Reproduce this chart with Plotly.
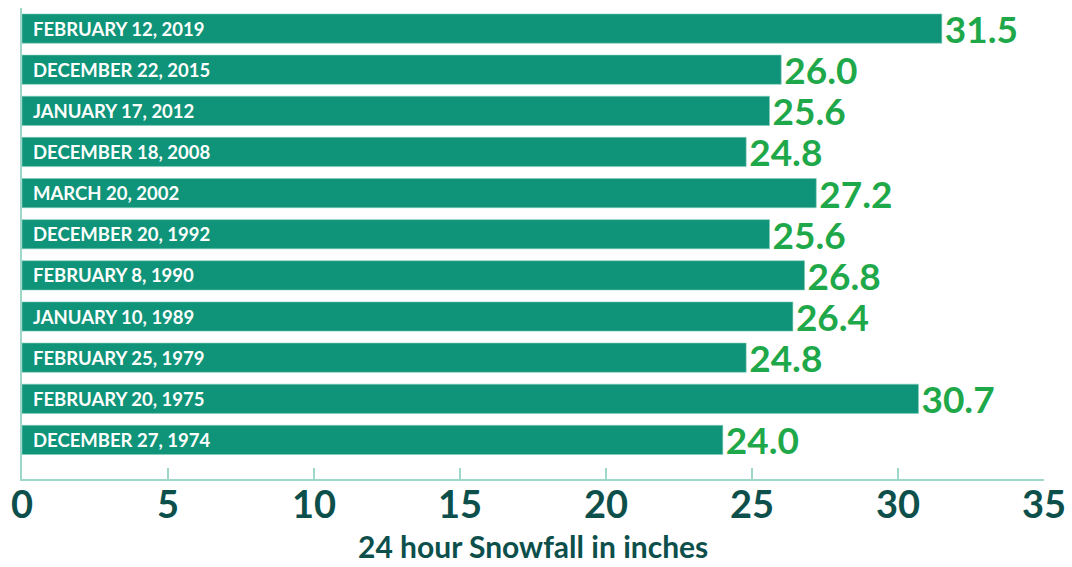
import plotly.graph_objects as go

dates = ["FEBRUARY 12, 2019", "DECEMBER 22, 2015", "JANUARY 17, 2012", "DECEMBER 18, 2008",
         "MARCH 20, 2002", "DECEMBER 20, 1992", "FEBRUARY 8, 1990", "JANUARY 10, 1989",
         "FEBRUARY 25, 1979", "FEBRUARY 20, 1975", "DECEMBER 27, 1974"]
snowfall = [31.5, 26.0, 25.6, 24.8, 27.2, 25.6, 26.8, 26.4, 24.8, 30.7, 24.0]
x_ticks = [0, 5, 10, 15, 20, 25, 30, 35]

BAR = "#0f9479"
VAL = "#1fa84a"
DARK = "#0d4f4b"
AXIS = "#9fd6ca"

idx = list(range(len(dates)))

fig = go.Figure()
fig.add_trace(go.Bar(
    x=snowfall, y=idx, orientation="h",
    marker=dict(color=BAR, line=dict(color="#7fcbb8", width=0.6)),
    width=0.71,
    text=[f"{v:.1f}" for v in snowfall],
    textposition="outside",
    constraintext="none",
    cliponaxis=False,
    outsidetextfont=dict(family="Lato", size=37, color=VAL, weight="bold"),
    hoverinfo="skip",
))

for i, d in enumerate(dates):
    fig.add_annotation(x=0, y=i, text=d, xref="x", yref="y", xanchor="left", yanchor="middle",
                       xshift=9, showarrow=False,
                       font=dict(family="Lato", size=18.5, color="white", weight="bold"))

fig.add_annotation(x=0.5, y=0, xref="paper", yref="paper", yshift=-67, yanchor="middle",
                   xanchor="center", showarrow=False, text="24 hour Snowfall in inches",
                   borderpad=0,
                   font=dict(family="Lato", size=30, color=DARK, weight="bold"))

fig.update_layout(
    width=1072, height=567,
    margin=dict(l=22, r=28, t=8, b=88),
    paper_bgcolor="white", plot_bgcolor="white",
    showlegend=False,
    bargap=0.29,
    xaxis=dict(range=[0, 35], tickvals=x_ticks, ticktext=[str(t) for t in x_ticks],
               automargin=False, ticklabelstandoff=-9,
               showgrid=False, zeroline=False, showline=True, linecolor=AXIS, linewidth=2,
               ticks="inside", ticklen=11, tickcolor=AXIS, tickwidth=1.5,
               tickfont=dict(family="Lato", size=38, color=DARK, weight="bold")),
    yaxis=dict(range=[10.95, -0.5], showticklabels=False, showgrid=False, zeroline=False,
               automargin=False,
               showline=True, linecolor=AXIS, linewidth=2, ticks=""),
)

fig.write_html("out.html", config={"displayModeBar": False},
               post_script="document.body.style.margin='0';document.body.style.overflow='hidden';")
